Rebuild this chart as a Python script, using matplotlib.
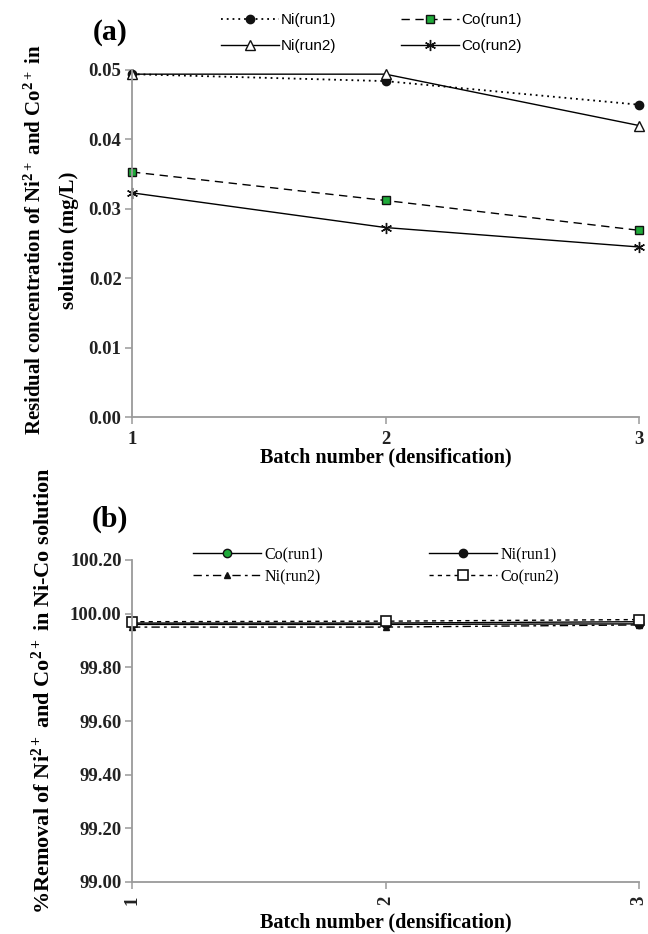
import matplotlib
matplotlib.use("Agg")
import matplotlib.pyplot as plt
from matplotlib.ticker import FormatStrFormatter

batch = [1, 2, 3]

# Panel (a): residual concentration (mg/L)
ni_run1_a = [0.0494, 0.0484, 0.0450]
co_run1_a = [0.0353, 0.0312, 0.0269]
ni_run2_a = [0.0494, 0.0494, 0.0420]
co_run2_a = [0.0323, 0.0273, 0.0245]

# Panel (b): % removal
co_run1_b = [99.965, 99.965, 99.970]
ni_run1_b = [99.960, 99.960, 99.962]
ni_run2_b = [99.950, 99.950, 99.958]
co_run2_b = [99.970, 99.972, 99.978]

a_yticks = [0.00, 0.01, 0.02, 0.03, 0.04, 0.05]
b_yticks = [99.00, 99.20, 99.40, 99.60, 99.80, 100.00, 100.20]

serif = ["Liberation Serif", "DejaVu Serif"]
sans = ["Liberation Sans", "DejaVu Sans"]
plt.rcParams["font.family"] = serif
plt.rcParams["mathtext.fontset"] = "custom"
plt.rcParams["mathtext.rm"] = "Liberation Serif:bold"
plt.rcParams["mathtext.bf"] = "Liberation Serif:bold"
plt.rcParams["mathtext.it"] = "Liberation Serif:bold"

W, H = 648, 934
fig = plt.figure(figsize=(W / 100, H / 100), dpi=100)
axa = fig.add_axes([132 / W, 1 - 417 / H, (639 - 132) / W, (417 - 70) / H])
axb = fig.add_axes([132 / W, 1 - 882 / H, (639 - 132) / W, (882 - 560) / H])

GRAY = "#9a9a9a"
GREEN = "#1faa3a"
TICK_FS = 13.5

def style_axes(ax):
    for s in ["top", "right"]:
        ax.spines[s].set_visible(False)
    for s in ["left", "bottom"]:
        ax.spines[s].set_color(GRAY)
        ax.spines[s].set_linewidth(1.3)
    ax.tick_params(axis="both", colors=GRAY, length=5, width=1.1, direction="out",
                   labelcolor="#222222", labelsize=TICK_FS, pad=2.5)
    ax.tick_params(axis="x", pad=5)
    for lab in ax.get_xticklabels() + ax.get_yticklabels():
        lab.set_fontweight("bold")

# ---- Panel (a)
l1, = axa.plot(batch, ni_run1_a, color="black", lw=1.3, ls=(0, (1, 2.2)), marker="o",
               ms=6, mfc="#111111", mec="#111111", clip_on=False, label="Ni(run1)")
l2, = axa.plot(batch, co_run1_a, color="black", lw=1.0, ls=(0, (6, 4)), marker="s",
               ms=6, mfc=GREEN, mec="#111111", mew=1.0, clip_on=False, label="Co(run1)")
l3, = axa.plot(batch, ni_run2_a, color="black", lw=1.0, ls="-", marker="^",
               ms=7, mfc="white", mec="#111111", mew=1.0, clip_on=False, label="Ni(run2)")
l4, = axa.plot(batch, co_run2_a, color="black", lw=1.0, ls="-", marker=(6, 2, 0),
               ms=8, mfc="none", mec="#111111", mew=1.0, clip_on=False, label="Co(run2)")
axa.set_xlim(1, 3)
axa.set_ylim(0, 0.05)
axa.set_xticks(batch)
axa.set_yticks(a_yticks)
axa.yaxis.set_major_formatter(FormatStrFormatter("%.2f"))
style_axes(axa)
axa.set_xlabel("Batch number (densification)", fontsize=14.5, fontweight="bold", labelpad=0)
axa.set_ylabel("Residual concentration of Ni$^{2+}$ and Co$^{2+}$ in\nsolution (mg/L)",
               fontsize=15, fontweight="bold", labelpad=7, linespacing=1.9, y=0.51)
axa.legend(handles=[l1, l3, l2, l4], ncol=2, frameon=False,
           loc="center", bbox_to_anchor=(371 / W, 1 - 33 / H), bbox_transform=fig.transFigure,
           prop={"family": sans, "size": 11}, handlelength=3.8,
           columnspacing=4.2, handletextpad=0.15, labelspacing=0.8)
fig.text(110 / W, 1 - 33 / H, "(a)", fontsize=21.5, fontweight="bold", ha="center", va="center")

# ---- Panel (b)
m1, = axb.plot(batch, co_run1_b, color="black", lw=1.0, ls="-", marker="o",
               ms=6, mfc=GREEN, mec="#111111", clip_on=False, label="Co(run1)")
m2, = axb.plot(batch, ni_run1_b, color="black", lw=1.0, ls="-", marker="o",
               ms=6, mfc="#111111", mec="#111111", clip_on=False, label="Ni(run1)")
m3, = axb.plot(batch, ni_run2_b, color="black", lw=1.0, ls=(0, (6, 3, 2, 3)), marker="^",
               ms=5, mfc="#111111", mec="#111111", clip_on=False, label="Ni(run2)")
m4, = axb.plot(batch, co_run2_b, color="black", lw=1.0, ls=(0, (3, 3)), marker="s",
               ms=7, mfc="white", mec="#111111", mew=1.2, clip_on=False, label="Co(run2)")
axb.set_xlim(1, 3)
axb.set_ylim(99.0, 100.2)
axb.set_xticks(batch)
axb.set_yticks(b_yticks)
axb.yaxis.set_major_formatter(FormatStrFormatter("%.2f"))
style_axes(axb)
for lab in axb.get_xticklabels():
    lab.set_rotation(90)
axb.set_xlabel("Batch number (densification)", fontsize=14.5, fontweight="bold", labelpad=5)
axb.set_ylabel("%Removal of Ni$^{2+}$ and Co$^{2+}$ in Ni-Co solution",
               fontsize=16, fontweight="bold", labelpad=11, y=0.593)
axb.legend(handles=[m1, m3, m2, m4], ncol=2, frameon=False,
           loc="center", bbox_to_anchor=(376 / W, 1 - 566 / H), bbox_transform=fig.transFigure,
           prop={"family": serif, "size": 11.5}, handlelength=4.25,
           columnspacing=6.6, handletextpad=0.25, labelspacing=0.38)
fig.text(110 / W, 1 - 519 / H, "(b)", fontsize=21.5, fontweight="bold", ha="center", va="center")

fig.savefig("out.png", dpi=100)
